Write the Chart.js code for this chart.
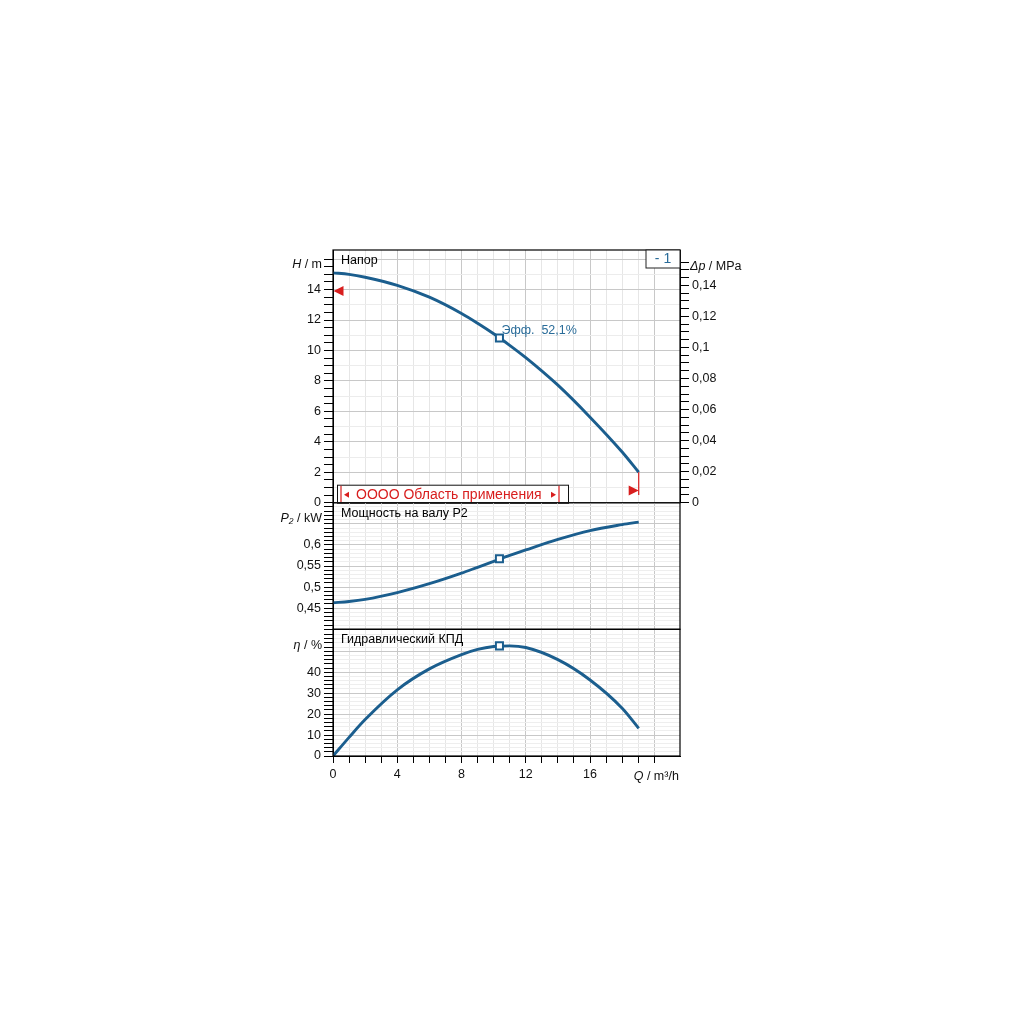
<!DOCTYPE html>
<html lang="ru">
<head>
<meta charset="utf-8">
<title>Кривые насоса</title>
<script src="https://cdn.jsdelivr.net/npm/chart.js@4.4.1/dist/chart.umd.min.js"></script>
<style>
  html, body { margin: 0; padding: 0; background: #fff; }
  #wrap { position: relative; width: 1024px; height: 1024px; }
  #wrap canvas { position: absolute; left: 0; top: 0; }
</style>
</head>
<body>
<div id="wrap">
  <canvas id="headChart" width="1024" height="1024"></canvas>
  <canvas id="powerChart" width="1024" height="1024"></canvas>
  <canvas id="effChart" width="1024" height="1024"></canvas>
</div>
<script>
// values (Q in m3/h)
const flowQ   = [0, 1, 2, 4, 6, 8, 9, 10, 11, 12, 14, 16, 18, 19.03];
const headH   = [15.1, 15.0, 14.81, 14.28, 13.5, 12.43, 11.79, 11.1, 10.34, 9.53, 7.72, 5.62, 3.33, 2.0];
const powerP2 = [0.463, 0.466, 0.471, 0.487, 0.508, 0.533, 0.547, 0.561, 0.575, 0.588, 0.613, 0.634, 0.648, 0.654];
const effEta  = [0, 8.9, 17.4, 31.6, 41.6, 48.4, 50.9, 52.3, 52.6, 51.8, 46.0, 36.3, 22.8, 13.2];

// duty point
const dutyQ = 10.36;
const dutyH = 10.82;
const dutyP = 0.567;
const dutyEta = 52.6;
const dutyLabel = 'Эфф.  52,1%';

// limit markers
const minHeadMark = 13.9;
const maxFlowMarkH = 0.8;

// axis ranges
const qMax = 21.6;
const hMax = 16.6;
const mPerMPa = 101.97;
const pMin = 0.40, pMax = 0.70;
const etaMax = 60.5;

const xTickLabels = [0, 4, 8, 12, 16];

const BLUE = '#1b5e8e';
const TEXT_BLUE = '#2a6c99';
const RED = '#d81e1e';
const FONT = "'Liberation Sans', Arial, sans-serif";

// plot geometry (pixels)
const PLOT_L = 333, PLOT_R = 680;
const EDGES = [250, 502.7, 629.3, 756];

const near = (v, step) => Math.abs(v / step - Math.round(v / step)) < 1e-6;
const comma = (v, d) => String(+v.toFixed(d)).replace('.', ',');

const gridX = v => near(v, 4) ? '#c8c8c8' : (near(v, 1) ? '#e6e6e6' : 'rgba(0,0,0,0)');

function xAxis(withTicks) {
  return {
    type: 'linear', min: 0, max: qMax, position: 'bottom',
    ticks: {
      display: withTicks, stepSize: 1, autoSkip: false, maxRotation: 0, padding: 4,
      color: '#111', font: { family: FONT, size: 12.5 },
      callback: v => xTickLabels.includes(v) ? String(v) : ''
    },
    grid: {
      color: c => gridX(c.tick.value),
      drawTicks: withTicks, tickLength: 7,
      tickColor: c => near(c.tick.value, 1) ? '#000' : 'rgba(0,0,0,0)'
    },
    border: { display: withTicks, color: '#000' },
    afterFit: s => { s.height = withTicks ? 40 : 0; }
  };
}

function yAxis(min, max, step, labelFn, gridFn) {
  return {
    type: 'linear', position: 'left', min: min, max: max,
    ticks: {
      stepSize: step, autoSkip: false, padding: 3, color: '#111',
      font: { family: FONT, size: 12.5 }, callback: labelFn
    },
    grid: {
      color: c => gridFn(c.tick.value), tickLength: 9,
      tickColor: c => near(c.tick.value, step) ? '#000' : 'rgba(0,0,0,0)'
    },
    border: { color: '#000' },
    afterFit: s => { s.width = 40; }
  };
}

function pts(ys) { return flowQ.map((q, i) => ({ x: q, y: ys[i] })); }

function curveSets(ys, dq, dy) {
  return [
    { data: [{ x: dq, y: dy }], showLine: false, pointStyle: 'rect', pointRadius: 5,
      pointBorderWidth: 2, pointBackgroundColor: '#fff', pointBorderColor: BLUE },
    { data: pts(ys), borderColor: BLUE, borderWidth: 2.9, pointRadius: 0,
      cubicInterpolationMode: 'monotone', fill: false }
  ];
}

const frame = {
  id: 'frame',
  afterDatasetsDraw(chart) {
    const a = chart.chartArea, ctx = chart.ctx;
    ctx.save();
    ctx.strokeStyle = '#000';
    ctx.lineWidth = 1.2;
    ctx.strokeRect(a.left, a.top, a.right - a.left, a.bottom - a.top);
    ctx.restore();
  }
};

function axisTitle(ctx, italic, rest, x, y, align) {
  ctx.font = '12.5px ' + FONT;
  const wRest = ctx.measureText(rest).width;
  ctx.font = 'italic 12.5px ' + FONT;
  const wIt = ctx.measureText(italic).width;
  const x0 = align === 'right' ? x - wRest - wIt : (align === 'center' ? x - (wRest + wIt) / 2 : x);
  ctx.textAlign = 'left';
  ctx.textBaseline = 'middle';
  ctx.fillStyle = '#111';
  ctx.fillText(italic, x0, y);
  ctx.font = '12.5px ' + FONT;
  ctx.fillText(rest, x0 + wIt, y);
}

function panelTitle(ctx, a, text) {
  ctx.font = '12.5px ' + FONT;
  ctx.fillStyle = '#000';
  ctx.textAlign = 'left';
  ctx.textBaseline = 'middle';
  ctx.fillText(text, a.left + 8, a.top + 10.5);
}

function tri(ctx, tipX, cy, dir, len, half) {
  ctx.beginPath();
  ctx.moveTo(tipX, cy);
  ctx.lineTo(tipX - dir * len, cy - half);
  ctx.lineTo(tipX - dir * len, cy + half);
  ctx.closePath();
  ctx.fill();
}

const headNotes = {
  id: 'headNotes',
  afterDraw(chart) {
    const a = chart.chartArea, ctx = chart.ctx;
    const xs = chart.scales.x, ys = chart.scales.y;
    ctx.save();
    panelTitle(ctx, a, 'Напор');

    // "- 1" box
    ctx.fillStyle = '#fff';
    ctx.fillRect(a.right - 34, a.top, 34, 18);
    ctx.strokeStyle = '#222';
    ctx.lineWidth = 1;
    ctx.strokeRect(a.right - 34, a.top, 34, 18);
    ctx.fillStyle = TEXT_BLUE;
    ctx.font = '14px ' + FONT;
    ctx.textAlign = 'center';
    ctx.textBaseline = 'middle';
    ctx.fillText('- 1', a.right - 17, a.top + 9.5);

    // duty label
    ctx.font = '12.5px ' + FONT;
    ctx.textAlign = 'left';
    ctx.fillText(dutyLabel, xs.getPixelForValue(dutyQ) + 2, ys.getPixelForValue(dutyH) - 7);

    // limit markers
    ctx.fillStyle = RED;
    tri(ctx, a.left + 0.5, ys.getPixelForValue(minHeadMark), -1, 10, 5);
    const qEnd = xs.getPixelForValue(flowQ[flowQ.length - 1]);
    ctx.strokeStyle = RED;
    ctx.lineWidth = 1.2;
    ctx.beginPath();
    ctx.moveTo(qEnd, ys.getPixelForValue(headH[headH.length - 1]));
    ctx.lineTo(qEnd, ys.getPixelForValue(0.5));
    ctx.stroke();
    tri(ctx, qEnd, ys.getPixelForValue(maxFlowMarkH), 1, 10, 5);

    // application range box
    const bx = a.left + 4, bw = 231, bh = 18, by = a.bottom - bh;
    ctx.fillStyle = '#fff';
    ctx.fillRect(bx, by, bw, bh);
    ctx.strokeStyle = '#111';
    ctx.lineWidth = 1;
    ctx.strokeRect(bx + 0.5, by + 0.5, bw, bh);
    ctx.strokeStyle = RED;
    ctx.lineWidth = 1.2;
    ctx.beginPath();
    ctx.moveTo(a.left + 8, by + 1); ctx.lineTo(a.left + 8, a.bottom);
    ctx.moveTo(a.left + 226, by + 1); ctx.lineTo(a.left + 226, a.bottom);
    ctx.stroke();
    ctx.fillStyle = RED;
    const cy = by + bh / 2 + 1;
    tri(ctx, a.left + 11, cy, -1, 5, 3);
    tri(ctx, a.left + 223, cy, 1, 5, 3);
    ctx.font = '14px ' + FONT;
    ctx.textAlign = 'left';
    ctx.fillText('OOOO Область применения', a.left + 23, cy);

    // axis titles
    axisTitle(ctx, 'H', ' / m', a.left - 11, a.top + 15, 'right');
    axisTitle(ctx, 'Δp', ' / MPa', a.right + 10, a.top + 16.5, 'left');
    ctx.restore();
  }
};

const powerNotes = {
  id: 'powerNotes',
  afterDraw(chart) {
    const a = chart.chartArea, ctx = chart.ctx;
    ctx.save();
    panelTitle(ctx, a, 'Мощность на валу P2');
    axisTitle(ctx, 'P₂', ' / kW', a.left - 11, a.top + 15.5, 'right');
    ctx.restore();
  }
};

const effNotes = {
  id: 'effNotes',
  afterDraw(chart) {
    const a = chart.chartArea, ctx = chart.ctx;
    ctx.save();
    panelTitle(ctx, a, 'Гидравлический КПД');
    axisTitle(ctx, 'η', ' / %', a.left - 11, a.top + 16.5, 'right');
    axisTitle(ctx, 'Q', ' / m³/h', chart.scales.x.getPixelForValue(20) + 2, a.bottom + 21, 'center');
    ctx.restore();
  }
};

const common = {
  responsive: false,
  animation: false,
  events: [],
  plugins: { legend: { display: false }, tooltip: { enabled: false } }
};

function pad(top, bottom, right) {
  return { left: PLOT_L - 40, right: right, top: top, bottom: bottom };
}

new Chart(document.getElementById('headChart'), {
  type: 'line',
  data: { datasets: curveSets(headH, dutyQ, dutyH) },
  options: {
    ...common,
    layout: { padding: pad(EDGES[0], 1024 - EDGES[1], 1024 - PLOT_R - 60) },
    scales: {
      x: xAxis(false),
      y: yAxis(0, hMax, 0.5,
        v => (near(v, 2) && v <= 14) ? String(Math.round(v)) : '',
        v => near(v, 2) ? '#c8c8c8' : (near(v, 1) ? '#ececec' : 'rgba(0,0,0,0)')),
      dp: {
        type: 'linear', position: 'right', min: 0, max: hMax / mPerMPa,
        ticks: {
          stepSize: 0.005, autoSkip: false, padding: 3, color: '#111',
          font: { family: FONT, size: 12.5 },
          callback: v => (near(v, 0.02) && v < 0.1401) ? (v < 1e-9 ? '0' : comma(v, 2)) : ''
        },
        grid: {
          drawOnChartArea: false, tickLength: 9,
          tickColor: c => near(c.tick.value, 0.005) ? '#000' : 'rgba(0,0,0,0)'
        },
        border: { color: '#000' },
        afterFit: s => { s.width = 60; }
      }
    }
  },
  plugins: [frame, headNotes]
});

new Chart(document.getElementById('powerChart'), {
  type: 'line',
  data: { datasets: curveSets(powerP2, dutyQ, dutyP) },
  options: {
    ...common,
    layout: { padding: pad(EDGES[1], 1024 - EDGES[2], 1024 - PLOT_R) },
    scales: {
      x: xAxis(false),
      y: yAxis(pMin, pMax, 0.01,
        v => (near(v, 0.05) && v > 0.449 && v < 0.601) ? comma(v, 2) : '',
        v => near(v, 0.05) ? '#c8c8c8' : (near(v, 0.01) ? '#eeeeee' : 'rgba(0,0,0,0)'))
    }
  },
  plugins: [frame, powerNotes]
});

new Chart(document.getElementById('effChart'), {
  type: 'line',
  data: { datasets: curveSets(effEta, dutyQ, dutyEta) },
  options: {
    ...common,
    layout: { padding: pad(EDGES[2], 1024 - EDGES[3] - 40, 1024 - PLOT_R) },
    scales: {
      x: xAxis(true),
      y: yAxis(0, etaMax, 2,
        v => (near(v, 10) && v <= 40) ? String(Math.round(v)) : '',
        v => near(v, 10) ? '#c8c8c8' : (near(v, 2) ? '#eeeeee' : 'rgba(0,0,0,0)'))
    }
  },
  plugins: [frame, effNotes]
});
</script>
</body>
</html>
